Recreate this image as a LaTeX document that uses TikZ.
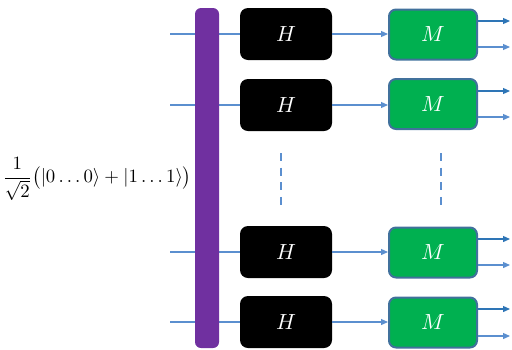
\documentclass[tikz,border=0pt]{standalone}
\usepackage{amsmath}
\usetikzlibrary{arrows.meta}
\definecolor{barpurple}{HTML}{7030A0}
\definecolor{boxgreen}{HTML}{00B050}
\definecolor{boxedge}{HTML}{41719C}
\definecolor{wireblue}{HTML}{5B8FCF}
\definecolor{outblue}{HTML}{2E75B6}
\begin{document}
\begin{tikzpicture}[x=0.5pt,y=-0.5pt,
		wire/.style={wireblue,line width=0.6pt},
		arr/.style={wire,-{Triangle[length=3.5pt,width=3pt]}},
		hbox/.style={fill=black,rounded corners=4pt,minimum width=46pt,minimum height=26pt,inner sep=0pt,text=white,font=\fontsize{10.5}{12}\selectfont},
		mbox/.style={fill=boxgreen,draw=boxedge,line width=1pt,rounded corners=3.5pt,minimum width=44pt,minimum height=25pt,inner sep=0pt,text=white,font=\fontsize{10.5}{12}\selectfont},
		vdots/.style={wireblue,line width=1pt,dash pattern=on 4pt off 3.3pt}]
		\useasboundingbox (0,0) rectangle (512,349);
		
		\node[inner sep=0pt] (state) at (97,179) {\scalebox{0.94}{$\dfrac{1}{\sqrt{2}}\bigl(|0\ldots0\rangle+|1\ldots1\rangle\bigr)$}};
		
		\node[hbox] (h1) at (286,34) {$H$};
		\node[hbox] (h2) at (286,105) {$H$};
		\node[hbox] (h3) at (286,252) {$H$};
		\node[hbox] (h4) at (286,322) {$H$};
		
		\node[mbox] (m1) at (433,34.5) {$M$};
		\node[mbox] (m2) at (433,104) {$M$};
		\node[mbox] (m3) at (433,252.5) {$M$};
		\node[mbox] (m4) at (433,322.5) {$M$};
		
		\coordinate (w1) at (170,34);
		\coordinate (w2) at (170,105);
		\coordinate (w3) at (170,252);
		\coordinate (w4) at (170,322);
		\draw[wire] (w1) -- (h1.west);
		\draw[wire] (w2) -- (h2.west);
		\draw[wire] (w3) -- (h3.west);
		\draw[wire] (w4) -- (h4.west);
		
		% entangling gate over the wires
		\node[fill=barpurple,rounded corners=3pt,minimum width=12pt,minimum height=170pt,inner sep=0pt] (bar) at (207,178) {};
		
		\draw[arr] (h1.east) -- (m1.west |- h1.east);
		\draw[arr] (h2.east) -- (m2.west |- h2.east);
		\draw[arr] (h3.east) -- (m3.west |- h3.east);
		\draw[arr] (h4.east) -- (m4.west |- h4.east);
		
		\coordinate (o1a) at (510,21);
		\coordinate (o1b) at (510,47);
		\coordinate (o2a) at (510,91);
		\coordinate (o2b) at (510,117);
		\coordinate (o3a) at (510,239);
		\coordinate (o3b) at (510,265);
		\coordinate (o4a) at (510,309);
		\coordinate (o4b) at (510,336);
		\draw[arr,outblue] (m1.east |- o1a) -- (o1a);
		\draw[arr] (m1.east |- o1b) -- (o1b);
		\draw[arr,outblue] (m2.east |- o2a) -- (o2a);
		\draw[arr] (m2.east |- o2b) -- (o2b);
		\draw[arr,outblue] (m3.east |- o3a) -- (o3a);
		\draw[arr] (m3.east |- o3b) -- (o3b);
		\draw[arr,outblue] (m4.east |- o4a) -- (o4a);
		\draw[arr] (m4.east |- o4b) -- (o4b);
		
		\coordinate (d1) at (281,153);
		\coordinate (d2) at (281,205);
		\coordinate (d3) at (441,153);
		\coordinate (d4) at (441,205);
		\draw[vdots] (d1) -- (d2);
		\draw[vdots] (d3) -- (d4);
	\end{tikzpicture}
\end{document}
